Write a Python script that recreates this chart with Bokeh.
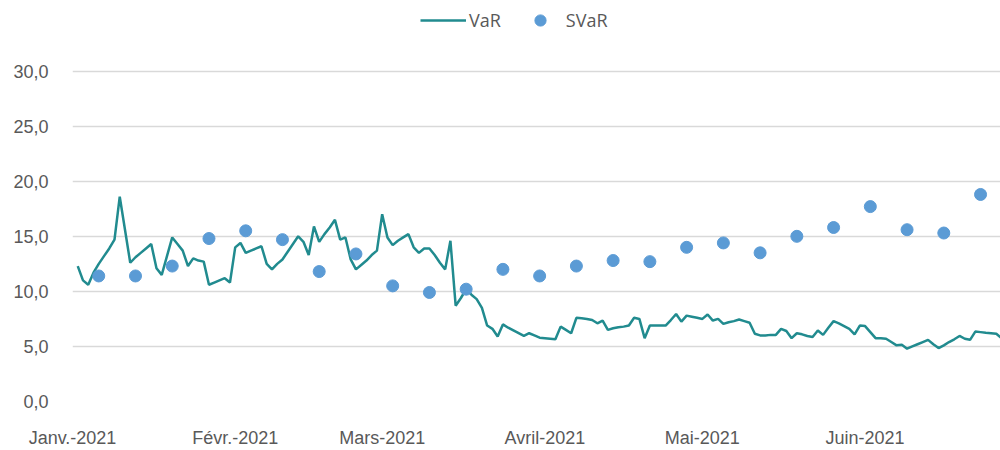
import numpy as np
import pandas as pd
from bokeh.plotting import figure
from bokeh.models import Range1d, FixedTicker, Legend, LegendItem, ColumnDataSource
from bokeh.embed import file_html
from bokeh.resources import INLINE

# ---- data ----
var_start = "2021-01-02"
var_values = [
    12.3, 11.0, 10.6, 11.7, 12.5, 13.2, 13.9, 14.7, 18.6, 15.6,
    12.6, 13.1, 13.5, 13.9, 14.3, 12.1, 11.5, 13.2, 14.9, 14.3,
    13.7, 12.3, 13.0, 12.8, 12.7, 10.6, 10.8, 11.0, 11.2, 10.8,
    14.0, 14.4, 13.5, 13.7, 13.9, 14.1, 12.5, 12.0, 12.5, 12.9,
    13.6, 14.3, 15.0, 14.5, 13.3, 15.9, 14.5, 15.2, 15.8, 16.5,
    14.7, 14.9, 12.9, 12.0, 12.4, 12.8, 13.3, 13.7, 17.0, 14.9,
    14.2, 14.6, 14.9, 15.2, 14.0, 13.5, 13.9, 13.9, 13.3, 12.6,
    12.0, 14.6, 8.7, 9.4, 10.2, 9.7, 9.3, 8.5, 6.9, 6.6,
    5.9, 7.0, 6.7, 6.45, 6.2, 5.95, 6.2, 6.0, 5.8, 5.75,
    5.7, 5.65, 6.8, 6.5, 6.2, 7.6, 7.55, 7.5, 7.4, 7.1,
    7.35, 6.5, 6.65, 6.75, 6.8, 6.9, 7.6, 7.5, 5.75, 6.9,
    6.9, 6.9, 6.9, 7.4, 7.95, 7.25, 7.8, 7.7, 7.6, 7.5,
    7.9, 7.35, 7.5, 7.05, 7.2, 7.3, 7.45, 7.3, 7.15, 6.15,
    6.0, 6.0, 6.05, 6.05, 6.6, 6.4, 5.75, 6.2, 6.1, 5.95,
    5.85, 6.45, 6.05, 6.7, 7.3, 7.1, 6.85, 6.6, 6.1, 6.9,
    6.85, 6.3, 5.75, 5.75, 5.7, 5.4, 5.1, 5.15, 4.8, 5.0,
    5.2, 5.4, 5.6, 5.2, 4.85, 5.1, 5.4, 5.65, 5.95, 5.7,
    5.6, 6.35, 6.3, 6.25, 6.2, 6.15, 5.75, 5.4,
]
svar_start = "2021-01-06"
svar_values = [
    11.4, 11.4, 12.3, 14.8, 15.5, 14.7, 11.8, 13.4, 10.5, 9.9,
    10.2, 12.0, 11.4, 12.3, 12.8, 12.7, 14.0, 14.4, 13.5, 15.0,
    15.8, 17.7, 15.6, 15.3, 18.8,
]
month_starts = ["2021-01-01", "2021-02-01", "2021-03-01", "2021-04-01", "2021-05-01", "2021-06-01"]
month_labels = ["Janv.-2021", "Févr.-2021", "Mars-2021", "Avril-2021", "Mai-2021", "Juin-2021"]
y_ticks = [0, 5, 10, 15, 20, 25, 30]
y_labels = ["0,0", "5,0", "10,0", "15,0", "20,0", "25,0", "30,0"]
series_names = ["VaR", "SVaR"]

origin = pd.Timestamp("2021-01-01")
var_days = (pd.date_range(var_start, periods=len(var_values), freq="D") - origin).days.to_numpy()
svar_days = (pd.date_range(svar_start, periods=len(svar_values), freq="7D") - origin).days.to_numpy()
tick_days = [int((pd.Timestamp(m) - origin).days) for m in month_starts]

LINE_COLOR = "#218b8f"
DOT_COLOR = "#5b9bd5"
TEXT_COLOR = "#595959"

# frame: top at 0 (room for legend inside), gridline 30 at ~71px, 0 at 403px
Y_TOP = 30 * 403 / 332

p = figure(width=1000, height=450, output_backend="svg", toolbar_location=None,
           x_range=Range1d(0, 176.8), y_range=Range1d(0, Y_TOP),
           min_border_left=72, min_border_right=0, min_border_top=0, min_border_bottom=47)
p.outline_line_color = None
p.background_fill_color = "white"
p.border_fill_color = "white"

l_src = ColumnDataSource(dict(x=var_days, y=var_values))
s_src = ColumnDataSource(dict(x=svar_days, y=svar_values))
r_line = p.line("x", "y", source=l_src, line_color=LINE_COLOR, line_width=2.5)
r_dots = p.scatter("x", "y", source=s_src, size=12, fill_color=DOT_COLOR, line_color=DOT_COLOR)

# axes
p.xaxis.ticker = FixedTicker(ticks=tick_days)
p.xaxis.major_label_overrides = {d: lab for d, lab in zip(tick_days, month_labels)}
p.yaxis.ticker = FixedTicker(ticks=y_ticks)
p.yaxis.major_label_overrides = {t: lab for t, lab in zip(y_ticks, y_labels)}
for ax in (p.xaxis, p.yaxis):
    ax.axis_line_color = None
    ax.major_tick_line_color = None
    ax.minor_tick_line_color = None
    ax.major_tick_out = 0
    ax.major_tick_in = 0
    ax.major_label_text_font = "Liberation Sans"
    ax.major_label_text_font_size = "18px"
    ax.major_label_text_color = TEXT_COLOR
p.xaxis.major_label_standoff = 26
p.yaxis.major_label_standoff = 24

p.xgrid.grid_line_color = None
p.ygrid.grid_line_color = "#d9d9d9"
p.ygrid.grid_line_width = 1.5

legend = Legend(items=[LegendItem(label=series_names[0], renderers=[r_line]),
                       LegendItem(label=series_names[1], renderers=[r_dots])],
                orientation="horizontal", location=(348, 367))
legend.padding = 0
legend.margin = 0
legend.spacing = 16
legend.glyph_width = 46
legend.glyph_height = 28
legend.label_standoff = 3
legend.label_text_font = "Open Sans"
legend.label_text_font_size = "18px"
legend.label_text_color = TEXT_COLOR
legend.border_line_color = None
legend.background_fill_alpha = 0
p.add_layout(legend)

open("out.html", "w").write(file_html(p, INLINE))
